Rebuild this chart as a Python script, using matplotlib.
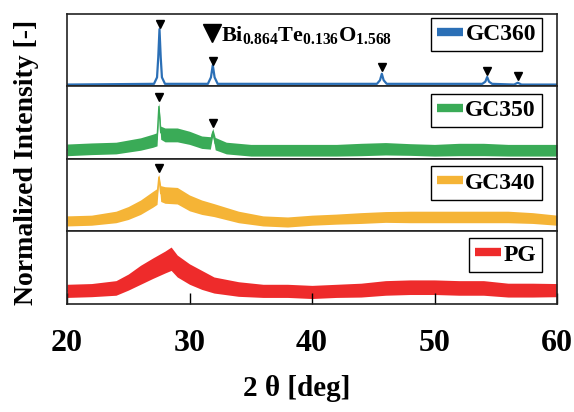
import matplotlib
matplotlib.use("Agg")
import matplotlib.pyplot as plt
import numpy as np

plt.rcParams['font.family'] = ['Liberation Serif', 'DejaVu Serif']
plt.rcParams['font.weight'] = 'bold'
plt.rcParams['mathtext.fontset'] = 'custom'
plt.rcParams['mathtext.rm'] = 'Liberation Serif:bold'
plt.rcParams['mathtext.bf'] = 'Liberation Serif:bold'

# ---- data (normalized intensity, each panel scaled 0..1) ----
labels = ['GC360', 'GC350', 'GC340', 'PG']
colors = ['#2b6fb6', '#3aab57', '#f5b436', '#ee2b2b']

gc360_x = [20, 27.1, 27.35, 27.45, 27.55, 27.65, 27.75, 28.0, 31.5, 31.75, 31.9, 32.05, 32.3,
           45.3, 45.55, 45.7, 45.85, 46.1, 53.9, 54.15, 54.3, 54.45, 54.7, 56.5, 56.8, 57.1, 60]
gc360_y = [0.02, 0.03, 0.12, 0.40, 0.79, 0.40, 0.12, 0.03, 0.03, 0.12, 0.29, 0.12, 0.03,
           0.03, 0.08, 0.17, 0.08, 0.03, 0.03, 0.06, 0.125, 0.06, 0.03, 0.02, 0.045, 0.02, 0.02]

gc350_x = [20, 22, 24, 26, 27, 27.35, 27.5, 27.65, 28, 29, 30, 31, 31.7, 31.9, 32.1, 33, 35,
           38, 40, 42, 44, 46, 48, 50, 52, 54, 56, 58, 60]
gc350_y = [0.125, 0.14, 0.15, 0.205, 0.25, 0.27, 0.72, 0.36, 0.33, 0.33, 0.29, 0.23, 0.22, 0.37,
           0.21, 0.15, 0.12, 0.12, 0.12, 0.12, 0.13, 0.14, 0.13, 0.12, 0.13, 0.13, 0.12, 0.12, 0.12]
gc350_hw = [0.08, 0.08, 0.08, 0.085, 0.09, 0.09, 0.05, 0.09, 0.095, 0.095, 0.09, 0.085, 0.085,
            0.05, 0.085, 0.08, 0.08, 0.08, 0.08, 0.08, 0.085, 0.085, 0.08, 0.08, 0.085, 0.085,
            0.08, 0.08, 0.08]

gc340_x = [20, 22, 24, 25, 26, 27, 27.35, 27.5, 27.65, 28, 29, 30, 31, 32, 34, 36, 38,
           40, 42, 44, 46, 48, 50, 52, 54, 56, 58, 60]
gc340_y = [0.14, 0.15, 0.195, 0.25, 0.33, 0.44, 0.48, 0.75, 0.52, 0.50, 0.49, 0.39, 0.33, 0.29,
           0.195, 0.14, 0.125, 0.15, 0.165, 0.18, 0.195, 0.195, 0.195, 0.195, 0.195, 0.195,
           0.18, 0.15]
gc340_hw = [0.07, 0.07, 0.08, 0.09, 0.10, 0.11, 0.11, 0.04, 0.11, 0.115, 0.115, 0.11, 0.10,
            0.09, 0.08, 0.07, 0.07, 0.07, 0.07, 0.075, 0.075, 0.08, 0.08, 0.08, 0.08, 0.08,
            0.075, 0.07]

pg_x = [20, 22, 24, 25, 26, 27, 28, 28.5, 29, 30, 31, 32, 34, 36, 38, 40, 42, 44, 46, 48,
        50, 52, 54, 56, 58, 60]
pg_y = [0.18, 0.19, 0.22, 0.30, 0.40, 0.49, 0.575, 0.62, 0.52, 0.41, 0.33, 0.26, 0.205, 0.18,
        0.18, 0.165, 0.18, 0.19, 0.22, 0.23, 0.23, 0.22, 0.22, 0.19, 0.19, 0.19]
pg_hw = [0.09, 0.09, 0.10, 0.11, 0.13, 0.14, 0.15, 0.16, 0.15, 0.14, 0.13, 0.11, 0.10, 0.09,
         0.09, 0.09, 0.09, 0.095, 0.10, 0.10, 0.10, 0.10, 0.10, 0.095, 0.095, 0.09]

series_x = [gc360_x, gc350_x, gc340_x, pg_x]
series_y = [gc360_y, gc350_y, gc340_y, pg_y]
series_hw = [None, gc350_hw, gc340_hw, pg_hw]

# peak markers (panel index, 2theta, height)
mark_panel = [0, 0, 0, 0, 0, 1, 1, 2]
mark_x = [27.6, 31.9, 45.7, 54.3, 56.8, 27.5, 31.9, 27.5]
mark_y = [0.86, 0.35, 0.26, 0.21, 0.14, 0.85, 0.49, 0.875]

xticks = [20, 30, 40, 50, 60]

# ---- figure ----
W, H = 574, 412
fig = plt.figure(figsize=(W / 100, H / 100), dpi=100)
left, right = 67 / W, 557 / W
tops = [14, 86, 159, 231]
bots = [86, 159, 231, 304]
legend_anchor_y = [0.944, 0.89, 0.90, 0.90]
axes = []
for i in range(4):
    ax = fig.add_axes([left, 1 - bots[i] / H, right - left, (bots[i] - tops[i]) / H])
    axes.append(ax)
    x = np.array(series_x[i]); y = np.array(series_y[i])
    if series_hw[i] is None:
        ax.plot(x, y, color=colors[i], lw=1.6, label=labels[i])
    else:
        hw = np.array(series_hw[i])
        ax.fill_between(x, y - hw, y + hw, color=colors[i], lw=0)
        ax.plot(x, y, color=colors[i], lw=1.0)
        ax.plot([], [], color=colors[i], label=labels[i])
    ax.set_xlim(20, 60)
    ax.set_ylim(0, 1)
    ax.set_yticks([])
    for s in ax.spines.values():
        s.set_linewidth(1.2)
        s.set_color('#222222')
    if i < 3:
        ax.set_xticks([])
    else:
        ax.set_xticks(xticks)
        ax.set_xticklabels([str(t) for t in xticks], fontsize=23, fontweight='bold')
        ax.tick_params(axis='x', direction='in', length=8, width=1.0, pad=18)
    leg = ax.legend(loc='upper right', bbox_to_anchor=(0.969, legend_anchor_y[i]),
                    prop={'weight': 'bold', 'size': 17}, frameon=True,
                    fancybox=False, edgecolor='black', handlelength=1.1, handletextpad=0.1,
                    borderpad=0.25, borderaxespad=0, framealpha=1)
    leg.get_frame().set_linewidth(1.0)
    for h in leg.get_lines():
        h.set_linewidth(6)
        h.set_solid_capstyle('butt')

for p, mx, my in zip(mark_panel, mark_x, mark_y):
    axes[p].plot([mx], [my], marker='v', color='black', ms=6, ls='none')

# compound annotation
axes[0].plot([31.84], [0.74], marker='v', color='black', ms=13, ls='none', clip_on=False)
axes[0].text(32.6, 0.63, r'$\mathrm{Bi_{0.864}Te_{0.136}O_{1.568}}$', fontsize=16,
             ha='left', va='baseline')

fig.text(27 / W, 1 - 162 / H, 'Normalized Intensity [-]', rotation=90, fontsize=20,
         fontweight='bold', ha='center', va='center')
fig.text(297 / W, 1 - 389 / H, '2 θ [deg]', fontsize=21, fontweight='bold',
         ha='center', va='center')

fig.savefig('out.png', dpi=100)
